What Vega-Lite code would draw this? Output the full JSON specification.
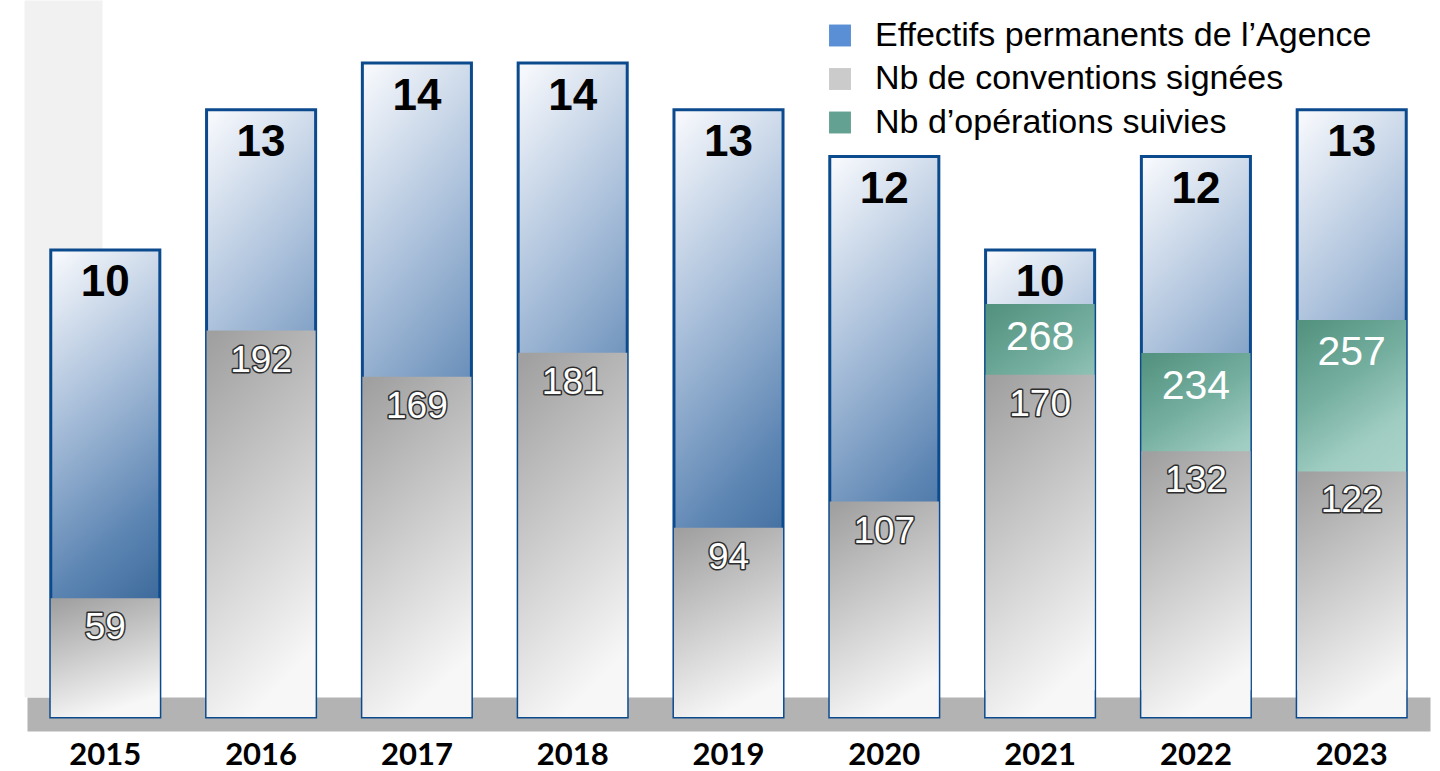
{
  "$schema": "https://vega.github.io/schema/vega-lite/v6.json",
  "width": 1440,
  "height": 717,
  "autosize": {"type": "none"},
  "padding": {"left": 0, "top": 0, "right": 0, "bottom": 54},
  "background": "#ffffff",
  "config": {"view": {"stroke": null}, "font": "Liberation Sans"},
  "datasets": {
    "main": [
      {"year": "2015", "eff": 10, "conv": 59, "ops": null},
      {"year": "2016", "eff": 13, "conv": 192, "ops": null},
      {"year": "2017", "eff": 14, "conv": 169, "ops": null},
      {"year": "2018", "eff": 14, "conv": 181, "ops": null},
      {"year": "2019", "eff": 13, "conv": 94, "ops": null},
      {"year": "2020", "eff": 12, "conv": 107, "ops": null},
      {"year": "2021", "eff": 10, "conv": 170, "ops": 268},
      {"year": "2022", "eff": 12, "conv": 132, "ops": 234},
      {"year": "2023", "eff": 13, "conv": 122, "ops": 257}
    ],
    "legend": [
      {"serie": "Effectifs permanents de l’Agence", "k": 0},
      {"serie": "Nb de conventions signées", "k": 0},
      {"serie": "Nb d’opérations suivies", "k": 0}
    ]
  },
  "resolve": {"scale": {"y": "independent"}, "axis": {"y": "independent"}},
  "layer": [
    {
      "data": {"name": "legend"},
      "mark": {"type": "square", "opacity": 0},
      "encoding": {
        "y": {
          "field": "k", "type": "quantitative",
          "scale": {"domain": [0, 1], "range": [697, 0]},
          "axis": {"orient": "left", "offset": -63, "domain": true, "domainColor": "#f1f1f1", "domainWidth": 78, "ticks": false, "labels": false, "grid": false, "title": null, "zindex": 0}
        },
        "color": {
          "field": "serie", "type": "nominal",
          "scale": {
            "domain": ["Effectifs permanents de l’Agence", "Nb de conventions signées", "Nb d’opérations suivies"],
            "range": ["#5a8fd5", "#cbcbcb", "#63a192"]
          },
          "legend": {
            "orient": "none", "legendX": 823, "legendY": 18.5, "title": null,
            "symbolType": "square", "symbolSize": 480, "symbolOpacity": 1, "symbolStrokeWidth": 0,
            "labelFont": "Liberation Sans", "labelFontSize": 34, "labelColor": "#000000",
            "labelOffset": 18, "labelLimit": 700, "rowPadding": 9.5, "padding": 0
          }
        }
      }
    },
    {
      "data": {"name": "main"},
      "layer": [
        {
          "mark": {
            "type": "bar", "stroke": "#0c4a8e", "strokeWidth": 3,
            "fill": {"gradient": "linear", "x1": 0.1, "y1": 0, "x2": 0.3, "y2": 1,
              "stops": [
                {"offset": 0, "color": "#f6f8fc"},
                {"offset": 0.35, "color": "#a9bfda"},
                {"offset": 0.7, "color": "#5b84b2"},
                {"offset": 1, "color": "#2c5c8e"}
              ]}
          },
          "encoding": {
            "x": {"field": "year", "type": "nominal", "sort": null,
              "scale": {"rangeMin": 27, "rangeMax": 1430, "paddingInner": 0.3, "paddingOuter": 0.1525, "align": 0.5},
              "axis": {"orient": "bottom", "offset": -3, "domain": true, "domainColor": "#b3b3b3", "domainWidth": 34, "domainCap": "butt", "ticks": false, "tickSize": 0, "labelPadding": 26, "labelAngle": 0, "labelFont": "Lato", "labelFontWeight": "bold", "labelFontSize": 31, "labelColor": "#000000", "title": null, "grid": false, "zindex": 0}},
            "y": {"field": "eff", "type": "quantitative", "scale": {"domain": [0, 15.35], "nice": false, "zero": true}, "axis": null}
          }
        },
        {
          "mark": {"type": "text", "baseline": "alphabetic", "dy": 46.5, "font": "Liberation Sans", "fontWeight": "bold", "fontSize": 44, "color": "#000000"},
          "encoding": {
            "x": {"field": "year", "type": "nominal", "sort": null},
            "y": {"field": "eff", "type": "quantitative"},
            "text": {"field": "eff", "type": "quantitative"}
          }
        }
      ]
    },
    {
      "data": {"name": "main"},
      "transform": [{"filter": "datum.ops != null"}],
      "layer": [
        {
          "mark": {
            "type": "bar",
            "fill": {"gradient": "linear", "x1": 0.1, "y1": 0, "x2": 0.3, "y2": 1,
              "stops": [
                {"offset": 0, "color": "#54937f"},
                {"offset": 0.22, "color": "#74ae9f"},
                {"offset": 0.42, "color": "#a0cdc2"},
                {"offset": 1, "color": "#c8e4dd"}
              ]}
          },
          "encoding": {
            "x": {"field": "year", "type": "nominal", "sort": null},
            "y": {"field": "ops", "type": "quantitative", "scale": {"domain": [-18.6, 479], "nice": false, "zero": false}, "axis": null}
          }
        },
        {
          "mark": {"type": "text", "baseline": "alphabetic", "dy": 45.5, "font": "Liberation Sans", "fontSize": 41, "color": "#ffffff"},
          "encoding": {
            "x": {"field": "year", "type": "nominal", "sort": null},
            "y": {"field": "ops", "type": "quantitative"},
            "text": {"field": "ops", "type": "quantitative"}
          }
        }
      ]
    },
    {
      "data": {"name": "main"},
      "layer": [
        {
          "mark": {
            "type": "bar",
            "fill": {"gradient": "linear", "x1": 0.1, "y1": 0, "x2": 0.4, "y2": 1,
              "stops": [
                {"offset": 0, "color": "#a0a0a0"},
                {"offset": 1, "color": "#f7f7f7"}
              ]}
          },
          "encoding": {
            "x": {"field": "year", "type": "nominal", "sort": null},
            "y": {"field": "conv", "type": "quantitative", "scale": {"domain": [0, 356.2], "nice": false, "zero": true}, "axis": null}
          }
        },
        {
          "mark": {"type": "text", "baseline": "alphabetic", "dy": 41, "font": "Liberation Sans", "fontSize": 37, "fill": "#ffffff", "stroke": "#2e2e2e", "strokeWidth": 3, "strokeJoin": "round"},
          "encoding": {
            "x": {"field": "year", "type": "nominal", "sort": null},
            "y": {"field": "conv", "type": "quantitative"},
            "text": {"field": "conv", "type": "quantitative"}
          }
        },
        {
          "mark": {"type": "text", "baseline": "alphabetic", "dy": 41, "font": "Liberation Sans", "fontSize": 37, "color": "#ffffff"},
          "encoding": {
            "x": {"field": "year", "type": "nominal", "sort": null},
            "y": {"field": "conv", "type": "quantitative"},
            "text": {"field": "conv", "type": "quantitative"}
          }
        }
      ]
    }
  ]
}
